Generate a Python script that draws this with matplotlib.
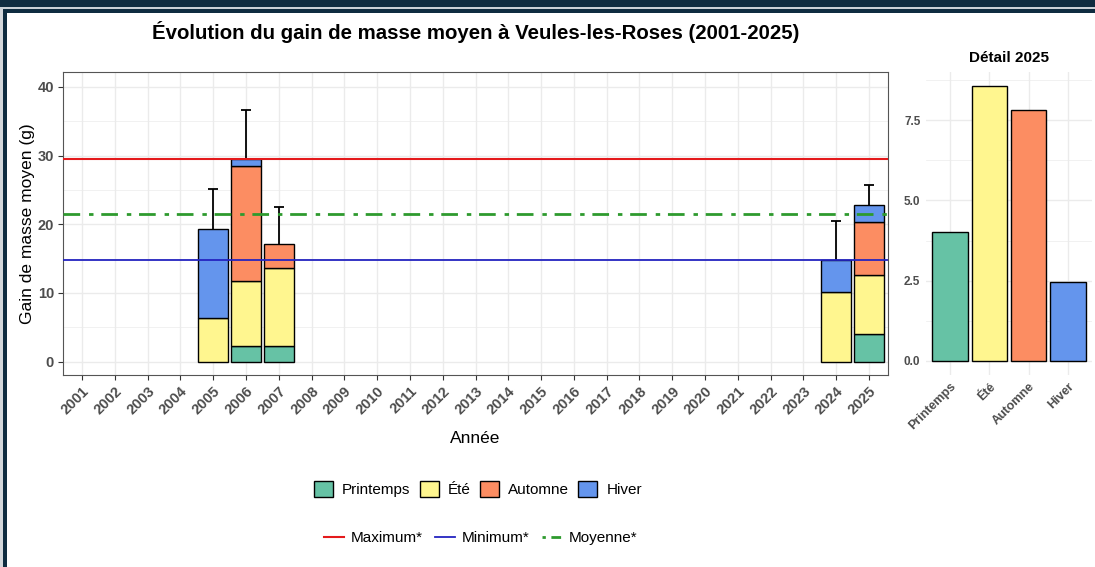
import matplotlib
matplotlib.use("Agg")
import matplotlib.pyplot as plt
import matplotlib.patches as mpatches
from matplotlib.lines import Line2D
from matplotlib.ticker import MultipleLocator
import numpy as np

W, H = 1095, 567
plt.rcParams["font.family"] = ["Liberation Sans", "DejaVu Sans"]

# Data
years = list(range(2001, 2026))
bar_years = [2005, 2006, 2007, 2024, 2025]
seasons = ["Printemps", "Été", "Automne", "Hiver"]
printemps = [0.0, 2.3, 2.3, 0.0, 4.0]
ete = [6.4, 9.4, 11.3, 10.1, 8.55]
automne = [0.0, 16.8, 3.6, 0.0, 7.8]
hiver = [12.85, 1.0, 0.0, 4.7, 2.45]
err_top = [25.2, 36.6, 22.5, 20.5, 25.75]
ref_max, ref_min, ref_mean = 29.5, 14.8, 21.5
detail_2025 = [4.0, 8.55, 7.8, 2.45]

# Colors
COLORS = ["#66c2a5", "#fff68f", "#fc8d62", "#6495ed"]
RED = "#e41a1c"
BLUE = "#2424c0"
GREEN = "#2e9a2e"
NAVY = "#0f2c40"
TICK = "#4d4d4d"
GRID = "#ebebeb"
DOTDASH = (0, (6, 3.2, 1.6, 2.8))


def box(x0, y0, x1, y1):
    """pixel box (top-left origin) -> figure fraction rect"""
    return [x0 / W, 1 - y1 / H, (x1 - x0) / W, (y1 - y0) / H]


fig = plt.figure(figsize=(W / 100, H / 100), dpi=100)
fig.patch.set_facecolor("white")

# Screenshot frame
for (x0, y0, x1, y1, c) in [(0, 0, W, 7, NAVY), (0, 7, W, 9, "#c9d0d6"),
                            (0, 9, 3, H, "#d3d7db"), (3, 9, W, 13, NAVY),
                            (3, 9, 7, H, NAVY)]:
    fig.add_artist(mpatches.Rectangle((x0 / W, 1 - y1 / H), (x1 - x0) / W, (y1 - y0) / H,
                                      transform=fig.transFigure, color=c, lw=0))

# ---- main panel
ax = fig.add_axes(box(63, 72, 888, 375))
series = [printemps, ete, automne, hiver]
bottom = np.zeros(len(bar_years))
for vals, col in zip(series, COLORS):
    vals = np.array(vals)
    m = vals > 0
    ax.bar(np.array(bar_years)[m], vals[m], width=0.9, bottom=bottom[m], color=col,
           edgecolor="black", linewidth=1.0, zorder=2)
    bottom += vals
totals = bottom
# upper whisker only, with a cap
ax.vlines(bar_years, totals, err_top, color="black", lw=1.3, zorder=3)
ax.hlines(err_top, np.array(bar_years) - 0.16, np.array(bar_years) + 0.16,
          color="black", lw=1.3, zorder=3)

ax.axhline(ref_max, color=RED, lw=1.5, zorder=4)
ax.axhline(ref_min, color=BLUE, lw=1.3, zorder=4)
ax.axhline(ref_mean, color=GREEN, lw=2.0, ls=DOTDASH, zorder=4)

ax.set_xlim(2000.42, 2025.58)
ax.set_ylim(-1.95, 42.18)
ax.set_xticks(years)
ax.set_xticklabels([str(y) for y in years], rotation=45, ha="right", rotation_mode="anchor",
                   fontsize=10.5, fontweight="bold", color=TICK)
ax.set_yticks([0, 10, 20, 30, 40])
ax.set_yticklabels(["0", "10", "20", "30", "40"], fontsize=10.5, fontweight="bold", color=TICK)
ax.yaxis.set_minor_locator(MultipleLocator(5))
ax.tick_params(which="major", length=3.5, width=0.8, color="#333333", pad=3)
ax.tick_params(which="minor", length=0)
ax.set_axisbelow(True)
ax.grid(which="major", color=GRID, lw=1.0)
ax.grid(which="minor", axis="y", color=GRID, lw=0.5)
for s in ax.spines.values():
    s.set_color("#555555")
    s.set_linewidth(0.8)
ax.set_ylabel("Gain de masse moyen (g)", fontsize=12.5, labelpad=2)
ax.set_xlabel("Année", fontsize=12.5, labelpad=10)

fig.text(476 / W, 1 - 32 / H, "Évolution du gain de masse moyen à Veules-les-Roses (2001-2025)",
         ha="center", va="center", fontsize=14.7, fontweight="bold")

# ---- detail panel
ax2 = fig.add_axes(box(926, 72, 1092, 375))
ax2.bar(range(len(seasons)), detail_2025, width=0.9, color=COLORS, edgecolor="black",
        linewidth=1.0, zorder=2)
ax2.set_xlim(-0.61, 3.61)
ax2.set_ylim(-0.436, 8.995)
ax2.set_xticks(range(len(seasons)))
ax2.set_xticklabels(seasons, rotation=45, ha="right", rotation_mode="anchor",
                    fontsize=9, fontweight="bold", color=TICK)
ax2.set_yticks([0, 2.5, 5, 7.5])
ax2.set_yticklabels(["0.0", "2.5", "5.0", "7.5"], fontsize=8.5, fontweight="bold", color=TICK)
ax2.yaxis.set_minor_locator(MultipleLocator(1.25))
ax2.tick_params(which="both", length=0, pad=4)
ax2.set_axisbelow(True)
ax2.grid(which="major", color=GRID, lw=1.0)
ax2.grid(which="minor", axis="y", color=GRID, lw=0.5)
for s in ax2.spines.values():
    s.set_visible(False)
ax2.set_title("Détail 2025", fontsize=11, fontweight="bold", pad=7)

# ---- legends
fill_handles = [mpatches.Patch(facecolor=c, edgecolor="black", linewidth=1.0, label=s)
                for c, s in zip(COLORS, seasons)]
fig.legend(handles=fill_handles, loc="center", bbox_to_anchor=(478 / W, 1 - 489 / H), ncol=4,
           frameon=False, fontsize=11, handlelength=1.25, handleheight=1.25,
           handletextpad=0.6, columnspacing=0.6)

line_handles = [Line2D([], [], color=RED, lw=1.5, label="Maximum*"),
                Line2D([], [], color=BLUE, lw=1.3, label="Minimum*"),
                Line2D([], [], color=GREEN, lw=2.0, ls=(0, (1.2, 2, 3.5, 5)), label="Moyenne*")]
fig.legend(handles=line_handles, loc="center", bbox_to_anchor=(481 / W, 1 - 538 / H), ncol=3,
           frameon=False, fontsize=11, handlelength=1.25, handletextpad=0.5, columnspacing=0.8)

fig.savefig("out.png", dpi=100)
